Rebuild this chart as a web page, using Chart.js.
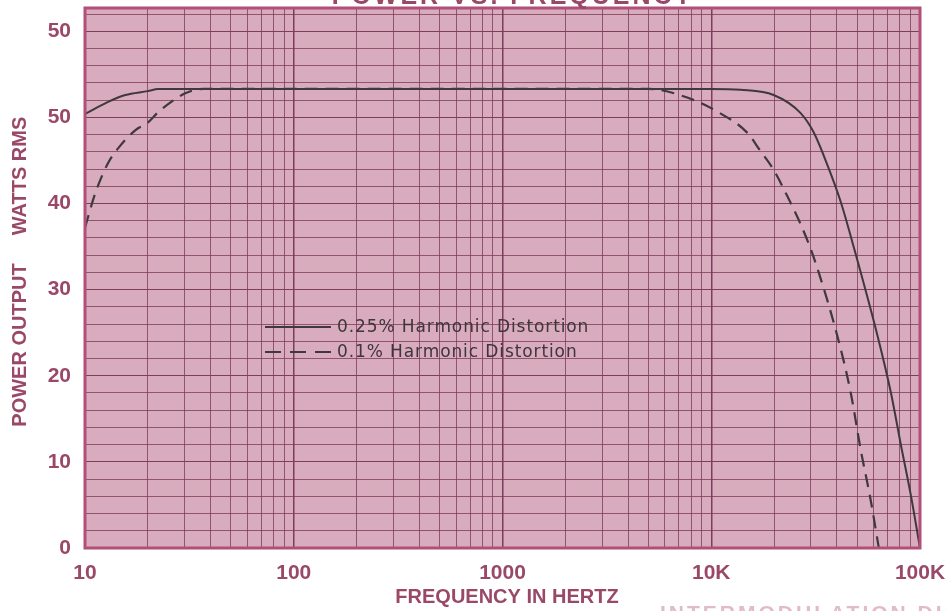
<!DOCTYPE html>
<html>
<head>
<meta charset="utf-8">
<script src="https://cdn.jsdelivr.net/npm/chart.js@4"></script>
<style>
  html, body { margin: 0; padding: 0; background: #ffffff; }
  #wrap { width: 946px; height: 611px; }
</style>
</head>
<body>
<div id="wrap"><canvas id="chart-power"></canvas></div>
<script>
// valores
var freqSolid  = [10, 12.9, 15.6, 20, 22.4, 30, 100, 1000, 10000, 13800, 19900, 26800, 30900, 36100, 41700, 48200, 62800, 72600, 81100, 90600, 100000];
var wattsSolid = [50.4, 51.8, 52.6, 53.05, 53.3, 53.3, 53.3, 53.3, 53.3, 53.2, 52.6, 50.5, 48.3, 44.4, 40.2, 34.9, 24.5, 18.0, 11.9, 6.0, 0];

var freqDash  = [10, 11.2, 12.9, 14.4, 17.4, 20, 22.4, 25.9, 30.2, 33.8, 37, 100, 1000, 5000, 7670, 11000, 14900, 17200, 19900, 23200, 26800, 30900, 40300, 46600, 52000, 58000, 63500];
var wattsDash = [37.2, 41.2, 44.7, 46.4, 48.5, 49.4, 50.6, 51.8, 52.8, 53.2, 53.3, 53.3, 53.3, 53.3, 52.3, 50.5, 48.2, 46.1, 43.9, 40.8, 37.6, 33.8, 24.5, 18.0, 11.4, 5.6, 0];

var xTickLabels = {10: "10", 100: "100", 1000: "1000", 10000: "10K", 100000: "100K"};
var yTickLabels = ["0", "10", "20", "30", "40", "50", "50"];

var seriesNames = ["0.25% Harmonic Distortion", "0.1% Harmonic Distortion"];

var labelColor = "#9a4868";
var paperColor = "#d8abbd";
var axisFont = "'Liberation Sans', Arial, sans-serif";

function toPoints(xs, ys) {
    return xs.map(function (x, i) { return {x: x, y: ys[i]}; });
}

// papel milimetrado: fundo, borda e textos
var paperPlugin = {
    id: "paper",
    beforeDraw: function (chart) {
        var a = chart.chartArea, ctx = chart.ctx;
        ctx.save();
        ctx.fillStyle = paperColor;
        ctx.fillRect(a.left, a.top, a.right - a.left, a.bottom - a.top);
        ctx.restore();
    },
    afterDatasetsDraw: function (chart) {
        var a = chart.chartArea, ctx = chart.ctx;
        ctx.save();
        ctx.strokeStyle = "#b24f78";
        ctx.lineWidth = 3;
        ctx.strokeRect(a.left, a.top, a.right - a.left, a.bottom - a.top);

        // título do eixo y
        ctx.fillStyle = labelColor;
        ctx.font = "bold 20px " + axisFont;
        ctx.textAlign = "center";
        ctx.textBaseline = "middle";
        ctx.translate(20, 0);
        ctx.rotate(-Math.PI / 2);
        ctx.fillText("WATTS RMS", -176, 0);
        ctx.fillText("POWER OUTPUT", -345, 0);
        ctx.restore();

        ctx.save();
        ctx.fillStyle = labelColor;
        ctx.font = "bold 20px " + axisFont;
        ctx.textAlign = "center";
        ctx.textBaseline = "middle";
        ctx.fillText("FREQUENCY IN HERTZ", 507, 597);
        ctx.font = "bold 25px " + axisFont;
        ctx.textBaseline = "alphabetic";
        if ("letterSpacing" in ctx) ctx.letterSpacing = "3px";
        ctx.fillText("POWER VS. FREQUENCY", 513, 4);
        ctx.fillStyle = "rgba(200,130,160,0.55)";
        ctx.font = "bold 21px " + axisFont;
        ctx.textAlign = "left";
        ctx.textBaseline = "top";
        ctx.fillText("INTERMODULATION DISTORTION", 660, 604);
        ctx.restore();

        // legenda
        ctx.save();
        ctx.font = "17px 'DejaVu Sans', sans-serif";
        ctx.fillStyle = "#3e363a";
        ctx.textBaseline = "middle";
        ctx.textAlign = "left";
        if ("letterSpacing" in ctx) ctx.letterSpacing = "0.9px";
        var rows = [327, 352];
        chart.data.datasets.forEach(function (ds, i) {
            ctx.strokeStyle = ds.borderColor;
            ctx.lineWidth = 2;
            ctx.setLineDash(ds.borderDash ? [16, 9] : []);
            ctx.beginPath();
            ctx.moveTo(265, rows[i]);
            ctx.lineTo(331, rows[i]);
            ctx.stroke();
            ctx.setLineDash([]);
            ctx.fillText(ds.label, 337, rows[i] + 1);
        });
        ctx.restore();
    }
};

var ctx = document.getElementById("chart-power").getContext("2d");
new Chart(ctx, {
    type: "line",
    data: {
        datasets: [
            {
                label: seriesNames[0],
                data: toPoints(freqSolid, wattsSolid),
                borderColor: "#3f383c",
                borderWidth: 2,
                pointRadius: 0,
                cubicInterpolationMode: "monotone",
                fill: false
            },
            {
                label: seriesNames[1],
                data: toPoints(freqDash, wattsDash),
                borderColor: "#3f383c",
                borderWidth: 2.2,
                borderDash: [13, 8],
                pointRadius: 0,
                cubicInterpolationMode: "monotone",
                fill: false
            }
        ]
    },
    options: {
        responsive: true,
        maintainAspectRatio: false,
        animation: false,
        layout: { padding: { top: 8, right: 26, left: 0, bottom: 0 } },
        plugins: {
            legend: { display: false },
            tooltip: { enabled: false }
        },
        scales: {
            x: {
                type: "logarithmic",
                min: 10,
                max: 100000,
                afterBuildTicks: function (scale) {
                    var t = [];
                    for (var d = 10; d < 100000; d *= 10) {
                        for (var k = 1; k < 10; k++) t.push({value: d * k});
                    }
                    t.push({value: 100000});
                    scale.ticks = t;
                },
                afterFit: function (scale) {
                    scale.height = 63;
                    scale.paddingLeft = 0;
                    scale.paddingRight = 0;
                },
                border: { display: false },
                grid: {
                    drawTicks: false,
                    color: function (c) {
                        var v = c.tick && c.tick.value;
                        return xTickLabels[v] ? "#7e3d5a" : "rgba(120,55,85,0.75)";
                    },
                    lineWidth: function (c) {
                        var v = c.tick && c.tick.value;
                        return xTickLabels[v] ? 1.5 : 1;
                    }
                },
                ticks: {
                    autoSkip: false,
                    maxRotation: 0,
                    padding: 13,
                    color: labelColor,
                    font: { family: axisFont, size: 21, weight: "bold" },
                    callback: function (v) { return xTickLabels[v] || ""; }
                }
            },
            y: {
                min: 0,
                max: 62.7,
                afterBuildTicks: function (scale) {
                    var t = [];
                    for (var v = 0; v <= 62; v += 2) t.push({value: v});
                    scale.ticks = t;
                },
                afterFit: function (scale) {
                    scale.width = 85;
                    scale.paddingTop = 0;
                    scale.paddingBottom = 0;
                },
                border: { display: false },
                grid: {
                    drawTicks: false,
                    color: function (c) {
                        var v = c.tick && c.tick.value;
                        return v % 10 === 0 ? "#7e3d5a" : "rgba(120,55,85,0.75)";
                    },
                    lineWidth: 1
                },
                ticks: {
                    autoSkip: false,
                    padding: 14,
                    color: labelColor,
                    font: { family: axisFont, size: 21, weight: "bold" },
                    callback: function (v) { return v % 10 === 0 ? yTickLabels[v / 10] : ""; }
                }
            }
        }
    },
    plugins: [paperPlugin]
});
</script>
</body>
</html>
